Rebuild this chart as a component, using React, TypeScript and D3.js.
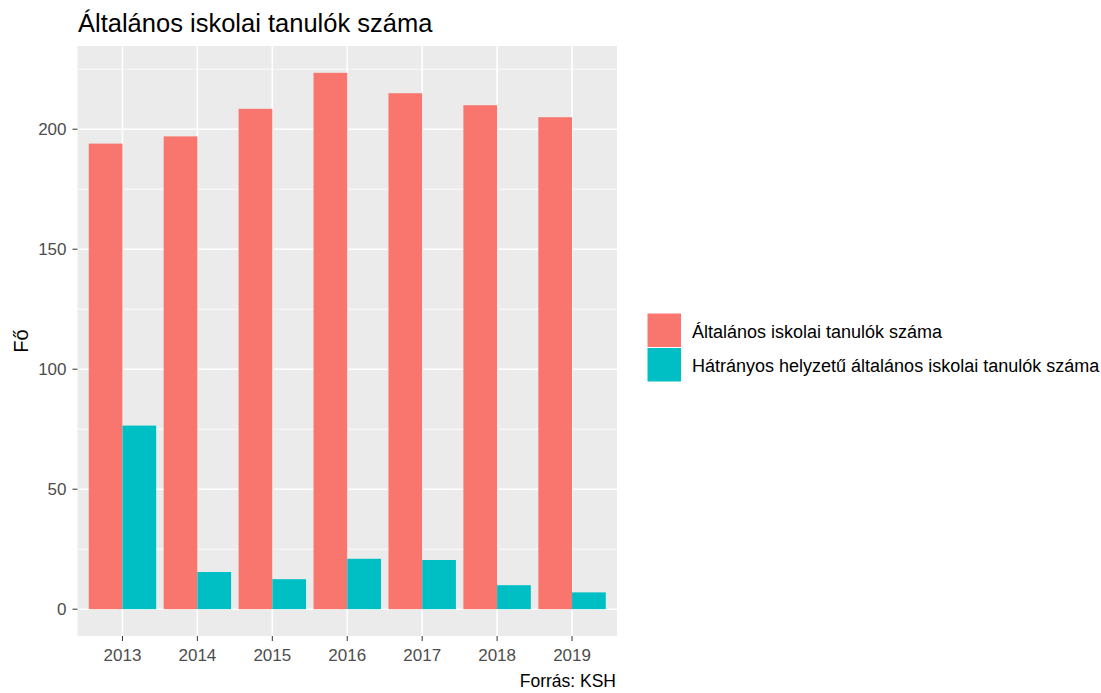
import React from "react";
import * as d3 from "d3";

const years = ["2013", "2014", "2015", "2016", "2017", "2018", "2019"];
const seriesNames = [
  "Általános iskolai tanulók száma",
  "Hátrányos helyzetű általános iskolai tanulók száma",
];
const totalStudents = [194, 197, 208.5, 223.5, 215, 210, 205];
const disadvantaged = [76.5, 15.5, 12.5, 21, 20.5, 10, 7];
const yTicks = [0, 50, 100, 150, 200];
const yMinorTicks = [25, 75, 125, 175, 225];
const colors = ["#F8766D", "#00BFC4"];

const W = 1101;
const H = 693;
const panel = { left: 77.5, right: 617, top: 46, bottom: 636 };
const font = "'Liberation Sans', Arial, sans-serif";

export default function App() {
  const seriesValues = [totalStudents, disadvantaged];
  const maxV = d3.max([...totalStudents, ...disadvantaged]) as number;
  const y = d3
    .scaleLinear()
    .domain([-0.05 * maxV, maxV * 1.05])
    .range([panel.bottom, panel.top]);
  // ggplot discrete: positions 1..n with 0.6 expansion
  const n = years.length;
  const xc = d3
    .scaleLinear()
    .domain([0.4, n + 0.6])
    .range([panel.left, panel.right]);
  const barW = 0.9;
  const x0 = d3
    .scaleBand()
    .domain(seriesNames)
    .range([-barW / 2, barW / 2]);

  return (
    <svg width={W} height={H} style={{ display: "block", position: "absolute", left: 0, top: 0 }}>
      <rect x={0} y={0} width={W} height={H} fill="#fff" />
      <text x={78} y={32} fontFamily={font} fontSize={25.5} fill="#000">
        Általános iskolai tanulók száma
      </text>
      <rect
        x={panel.left}
        y={panel.top}
        width={panel.right - panel.left}
        height={panel.bottom - panel.top}
        fill="#EBEBEB"
      />
      {yMinorTicks.map((t) => (
        <line
          key={"mn" + t}
          x1={panel.left}
          x2={panel.right}
          y1={y(t)}
          y2={y(t)}
          stroke="#fff"
          strokeWidth={0.8}
        />
      ))}
      {yTicks.map((t) => (
        <line
          key={"mj" + t}
          x1={panel.left}
          x2={panel.right}
          y1={y(t)}
          y2={y(t)}
          stroke="#fff"
          strokeWidth={1.6}
        />
      ))}
      {years.map((yr, i) => (
        <line
          key={"vg" + yr}
          x1={xc(i + 1)}
          x2={xc(i + 1)}
          y1={panel.top}
          y2={panel.bottom}
          stroke="#fff"
          strokeWidth={1.6}
        />
      ))}
      {seriesNames.map((s, si) =>
        years.map((yr, i) => {
          const v = seriesValues[si][i];
          const xl = xc(i + 1 + (x0(s) as number));
          const xr = xc(i + 1 + (x0(s) as number) + x0.bandwidth());
          return (
            <rect
              key={s + yr}
              x={xl}
              y={y(v)}
              width={xr - xl}
              height={y(0) - y(v)}
              fill={colors[si]}
            />
          );
        })
      )}
      {yTicks.map((t) => (
        <g key={"yt" + t}>
          <line x1={panel.left - 5} x2={panel.left} y1={y(t)} y2={y(t)} stroke="#333" strokeWidth={1} />
          <text
            x={panel.left - 11}
            y={y(t)}
            dy="0.36em"
            textAnchor="end"
            fontFamily={font}
            fontSize={17}
            fill="#4D4D4D"
          >
            {t}
          </text>
        </g>
      ))}
      {years.map((yr, i) => (
        <g key={"xt" + yr}>
          <line
            x1={xc(i + 1)}
            x2={xc(i + 1)}
            y1={panel.bottom}
            y2={panel.bottom + 5}
            stroke="#333"
            strokeWidth={1}
          />
          <text
            x={xc(i + 1)}
            y={661}
            textAnchor="middle"
            fontFamily={font}
            fontSize={17}
            fill="#4D4D4D"
          >
            {yr}
          </text>
        </g>
      ))}
      <text
        transform={`translate(28,${(panel.top + panel.bottom) / 2}) rotate(-90)`}
        textAnchor="middle"
        fontFamily={font}
        fontSize={20}
        fill="#000"
      >
        Fő
      </text>
      <text x={616} y={687} textAnchor="end" fontFamily={font} fontSize={17.5} fill="#000">
        Forrás: KSH
      </text>
      {seriesNames.map((s, si) => {
        const ky = 313 + si * 34.5;
        return (
          <g key={"lg" + s}>
            <rect x={647} y={ky} width={34.5} height={34.5} fill={colors[si]} stroke="#fff" strokeWidth={1} />
            <text x={692} y={ky + 24.5} fontFamily={font} fontSize={18} fill="#000">
              {s}
            </text>
          </g>
        );
      })}
    </svg>
  );
}
